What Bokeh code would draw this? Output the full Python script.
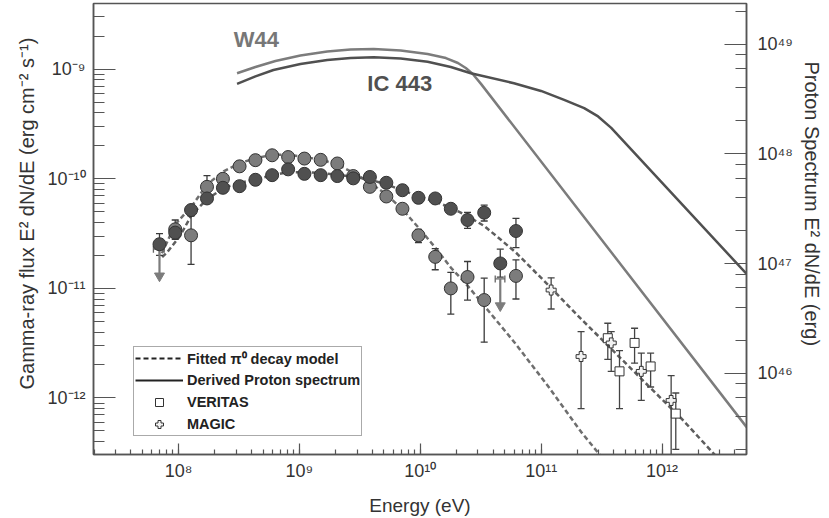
import math
from bokeh.plotting import figure
from bokeh.models import (Range1d, LogAxis, LogScale, Legend, LegendItem, Title,
                          CustomJSTickFormatter)
from bokeh.embed import file_html
from bokeh.resources import INLINE
from bokeh.core.properties import value

FONT = "Liberation Sans"

# ---------------- Fermi-LAT data ----------------
# W44 (lighter gray) detections
w44_energy = [9.39e7, 1.27e8, 1.72e8, 2.33e8, 3.20e8, 4.33e8, 5.95e8, 8.07e8, 1.10e9,
              1.50e9, 2.06e9, 2.79e9, 3.83e9, 5.24e9, 7.12e9, 9.66e9, 1.33e10, 1.79e10,
              2.46e10, 3.38e10, 6.19e10]
w44_flux = [3.46e-11, 3.05e-11, 8.45e-11, 1.00e-10, 1.30e-10, 1.48e-10, 1.64e-10, 1.58e-10,
            1.53e-10, 1.49e-10, 1.38e-10, 1.06e-10, 8.45e-11, 6.90e-11, 5.33e-11, 3.05e-11,
            1.94e-11, 1.00e-11, 1.27e-11, 7.83e-12, 1.30e-11]
# W44 visible error bars
w44_err_energy = [9.39e7, 1.27e8, 1.72e8, 9.66e9, 1.33e10, 1.79e10, 2.46e10, 3.38e10, 6.19e10]
w44_err_low = [2.81e-11, 1.66e-11, 6.80e-11, 2.62e-11, 1.48e-11, 5.83e-12, 7.83e-12, 3.23e-12, 8.0e-12]
w44_err_high = [4.21e-11, 4.57e-11, 1.07e-10, 3.46e-11, 2.31e-11, 1.40e-11, 1.76e-11, 1.24e-11, 1.82e-11]
# W44 upper limits
w44_ul_energy = [6.96e7, 4.59e10]
w44_ul_flux = [2.28e-11, 1.22e-11]
w44_ul_arrow_end = [1.30e-11, 6.95e-12]
w44_ul_energy_low = [6.20e7, 4.17e10]
w44_ul_energy_high = [7.61e7, 5.01e10]

# IC 443 (darker gray)
ic_energy = [6.96e7, 9.39e7, 1.27e8, 1.72e8, 2.33e8, 3.20e8, 4.33e8, 5.95e8, 8.07e8, 1.10e9,
             1.50e9, 2.06e9, 2.79e9, 3.83e9, 5.24e9, 7.12e9, 9.66e9, 1.33e10, 1.79e10,
             2.46e10, 3.38e10, 4.59e10, 6.19e10]
ic_flux = [2.53e-11, 3.23e-11, 5.19e-11, 6.62e-11, 8.28e-11, 8.57e-11, 9.80e-11, 1.08e-10,
           1.22e-10, 1.11e-10, 1.08e-10, 1.06e-10, 1.01e-10, 1.04e-10, 9.20e-11, 7.87e-11,
           6.71e-11, 6.62e-11, 5.33e-11, 4.21e-11, 4.91e-11, 1.69e-11, 3.34e-11]
ic_err_energy = [6.96e7, 1.79e10, 2.46e10, 3.38e10, 4.59e10, 6.19e10]
ic_err_low = [2.00e-11, 4.90e-11, 3.53e-11, 4.12e-11, 1.27e-11, 2.36e-11]
ic_err_high = [3.16e-11, 5.80e-11, 4.94e-11, 5.75e-11, 2.28e-11, 4.36e-11]

# VERITAS and MAGIC (IC 443)
veritas_energy = [3.56e11, 4.45e11, 5.93e11, 8.05e11, 1.30e12]
veritas_flux = [3.51e-12, 1.75e-12, 3.18e-12, 1.94e-12, 7.2e-13]
veritas_low = [2.25e-12, 8.0e-13, 2.08e-12, 1.26e-12, 3.39e-13]
veritas_high = [4.81e-12, 2.71e-12, 4.33e-12, 2.57e-12, 1.11e-12]

magic_energy = [1.21e11, 2.14e11, 3.80e11, 6.74e11, 1.19e12]
magic_flux = [9.66e-12, 2.39e-12, 3.18e-12, 1.75e-12, 9.5e-13]
magic_low = [6.49e-12, 8.0e-13, 1.75e-12, 9.5e-13, 2.8e-13]
magic_high = [1.25e-11, 4.03e-12, 4.03e-12, 2.57e-12, 1.6e-12]

# ---------------- Fitted pi0 decay models ----------------
w44_model_energy = [7.29e7, 9.39e7, 1.29e8, 1.72e8, 2.36e8, 3.25e8, 4.47e8, 5.95e8, 8.07e8,
                    1.10e9, 1.50e9, 2.06e9, 2.83e9, 3.83e9, 5.24e9, 7.12e9, 9.66e9, 1.33e10,
                    1.79e10, 2.46e10, 3.38e10, 6.00e10, 1.13e11, 2.14e11, 3.14e11]
w44_model_flux = [2.09e-11, 3.84e-11, 5.64e-11, 8.87e-11, 1.17e-10, 1.40e-10, 1.55e-10, 1.66e-10,
                  1.66e-10, 1.58e-10, 1.50e-10, 1.35e-10, 1.13e-10, 9.20e-11, 7.20e-11, 5.26e-11,
                  3.59e-11, 2.36e-11, 1.55e-11, 1.06e-11, 6.95e-12, 3.23e-12, 1.30e-12, 4.91e-13,
                  2.92e-13]

ic_model_energy = [7.32e7, 8.01e7, 1.03e8, 1.29e8, 1.72e8, 2.36e8, 3.25e8, 4.33e8, 5.95e8,
                   8.07e8, 1.10e9, 1.50e9, 2.06e9, 2.83e9, 3.83e9, 5.24e9, 7.12e9, 9.66e9,
                   1.33e10, 1.79e10, 2.46e10, 3.38e10, 4.59e10, 6.19e10, 1.13e11, 2.14e11,
                   4.05e11, 7.66e11, 1.45e12, 2.82e12]
ic_model_flux = [1.93e-11, 2.12e-11, 3.01e-11, 4.73e-11, 6.48e-11, 8.28e-11, 9.20e-11, 9.86e-11,
                 1.08e-10, 1.15e-10, 1.15e-10, 1.13e-10, 1.09e-10, 1.04e-10, 9.86e-11, 8.87e-11,
                 7.87e-11, 6.95e-11, 6.18e-11, 5.45e-11, 4.57e-11, 3.71e-11, 2.81e-11, 2.12e-11,
                 1.09e-11, 5.26e-12, 2.62e-12, 1.30e-12, 6.49e-13, 2.92e-13]

# ---------------- Derived proton spectra (right axis, erg) ----------------
w44_proton_energy = [3.05e8, 4.33e8, 6.34e8, 1.02e9, 1.70e9, 2.65e9, 4.12e9, 6.89e9, 1.15e10,
                     1.63e10, 2.05e10, 2.38e10, 2.72e10, 3.18e10, 5.03e12]
w44_proton_value = [5.45e48, 6.22e48, 7.05e48, 7.91e48, 8.61e48, 8.97e48, 9.06e48, 8.78e48,
                    8.17e48, 7.50e48, 6.76e48, 6.09e48, 5.37e48, 4.36e48, 3.2e45]

ic_proton_energy = [3.05e8, 4.33e8, 6.10e8, 1.02e9, 1.70e9, 2.65e9, 4.12e9, 6.89e9, 1.15e10,
                    1.79e10, 2.62e10, 5.96e10, 9.98e10, 1.55e11, 2.27e11, 2.96e11, 3.80e11, 5.03e12]
ic_proton_value = [4.36e48, 5.10e48, 5.83e48, 6.62e48, 7.20e48, 7.50e48, 7.62e48, 7.43e48,
                   6.95e48, 6.22e48, 5.45e48, 4.42e48, 3.76e48, 3.12e48, 2.62e48, 2.20e48,
                   1.73e48, 8.0e46]

# ---------------- Colors ----------------
W44_COLOR = "#7c7c7c"
IC_COLOR = "#505050"
EDGE = "#333333"

p = figure(width=829, height=518, x_axis_type="log", y_axis_type="log",
           x_range=Range1d(1.98e7, 5.0e12), y_range=Range1d(3.05e-13, 3.98e-9),
           output_backend="svg", toolbar_location=None,
           min_border_left=93, min_border_right=83, min_border_top=3, min_border_bottom=62,
           background_fill_color="white", border_fill_color="white")
p.xgrid.visible = False
p.ygrid.visible = False
p.outline_line_color = "#555555"
p.outline_line_width = 1.5

p.extra_y_ranges = {"proton": Range1d(1.81e45, 2.36e49)}
p.extra_y_scales = {"proton": LogScale()}
right_axis = LogAxis(y_range_name="proton")
p.add_layout(right_axis, "right")

fmt_code = """
const sup = {"-":"\u207b","0":"\u2070","1":"\u00b9","2":"\u00b2","3":"\u00b3","4":"\u2074",
             "5":"\u2075","6":"\u2076","7":"\u2077","8":"\u2078","9":"\u2079"};
const e = Math.round(Math.log10(tick));
return "10" + String(e).split("").map(c => sup[c]).join("");
"""

for ax in [p.xaxis[0], p.yaxis[0], right_axis]:
    ax.formatter = CustomJSTickFormatter(code=fmt_code)
    ax.axis_line_color = "#555555"
    ax.axis_line_width = 1.5
    ax.major_tick_line_color = "#555555"
    ax.minor_tick_line_color = "#555555"
    ax.major_tick_line_width = 1.2
    ax.minor_tick_line_width = 1.2
    ax.major_tick_out = 0
    ax.minor_tick_out = 0
    ax.major_label_text_font = FONT
    ax.major_label_text_font_size = "18px"
    ax.major_label_text_color = "#333333"
    ax.axis_label_text_font = FONT
    ax.axis_label_text_font_size = "19px"
    ax.axis_label_text_font_style = "normal"
    ax.axis_label_text_color = "#333333"

for ax in [p.yaxis[0], right_axis]:
    ax.major_tick_in = 22
    ax.minor_tick_in = 11
p.yaxis[0].major_label_standoff = 8
right_axis.major_label_standoff = 11
p.xaxis[0].major_tick_in = 11
p.xaxis[0].minor_tick_in = 5
p.xaxis[0].major_label_standoff = 6

p.xaxis[0].axis_label = "Energy (eV)"
p.xaxis[0].axis_label_standoff = 11

# vertical axis titles (placed as side titles so they can sit where the original has them)
left_title = Title(text="Gamma-ray flux E\u00b2 dN/dE (erg cm\u207b\u00b2 s\u207b\u00b9)",
                   align="left", offset=65, standoff=14, text_font=FONT,
                   text_font_size="20px", text_font_style="normal", text_color="#333333")
p.add_layout(left_title, "left")
right_title = Title(text="Proton Spectrum E\u00b2 dN/dE (erg)", align="left",
                    offset=58, standoff=10, text_font=FONT, text_font_size="20px",
                    text_font_style="normal", text_color="#333333")
p.add_layout(right_title, "right")

# proton spectra
p.line(w44_proton_energy, w44_proton_value, y_range_name="proton",
       line_color=W44_COLOR, line_width=2.5)
p.line(ic_proton_energy, ic_proton_value, y_range_name="proton",
       line_color=IC_COLOR, line_width=2.5)

# model curves
p.line(w44_model_energy, w44_model_flux, line_color="#6e6e6e", line_width=2.5, line_dash="5 3")
p.line(ic_model_energy, ic_model_flux, line_color="#5e5e5e", line_width=2.5, line_dash="5 3")

# error bars
def errorbars(xs, lo, hi, color):
    p.segment(xs, lo, xs, hi, line_color=color, line_width=1.3)
    p.scatter(xs, lo, marker="dash", size=7, line_color=color, line_width=1.3)
    p.scatter(xs, hi, marker="dash", size=7, line_color=color, line_width=1.3)

errorbars(w44_err_energy, w44_err_low, w44_err_high, "#3a3a3a")
errorbars(ic_err_energy, ic_err_low, ic_err_high, "#3a3a3a")
errorbars(veritas_energy, veritas_low, veritas_high, "#444444")
errorbars(magic_energy, magic_low, magic_high, "#444444")

# upper limits (W44)
p.segment(w44_ul_energy_low, w44_ul_flux, w44_ul_energy_high, w44_ul_flux,
          line_color="#666666", line_width=1.3)
p.scatter(w44_ul_energy_low, w44_ul_flux, marker="dash", angle=math.pi / 2, size=7,
          line_color="#666666", line_width=1.3)
p.scatter(w44_ul_energy_high, w44_ul_flux, marker="dash", angle=math.pi / 2, size=7,
          line_color="#666666", line_width=1.3)
p.segment(w44_ul_energy, w44_ul_flux, w44_ul_energy, w44_ul_arrow_end,
          line_color=W44_COLOR, line_width=2.2)
p.scatter(w44_ul_energy, w44_ul_arrow_end, marker="inverted_triangle", size=10,
          fill_color=W44_COLOR, line_color=W44_COLOR)

# data points
p.scatter(w44_energy, w44_flux, marker="circle", size=13, fill_color=W44_COLOR,
          line_color=EDGE, line_width=1)
p.scatter(ic_energy, ic_flux, marker="circle", size=13, fill_color=IC_COLOR,
          line_color=EDGE, line_width=1)
r_ver = p.scatter(veritas_energy, veritas_flux, marker="square", size=9, fill_color="white",
                  line_color="#333333", line_width=1)
r_mag = p.scatter(magic_energy, magic_flux, marker="plus", size=10, fill_color="#f2f2f2",
                  line_color="#333333", line_width=1)

# source labels
p.text(x=[4.4e8], y=[1.85e-9], text=["W44"], text_font=value(FONT), text_font_style="bold",
       text_font_size="22px", text_color="#777777", text_align="center", text_baseline="middle")
p.text(x=[6.76e9], y=[7.35e-10], text=["IC 443"], text_font=value(FONT), text_font_style="bold",
       text_font_size="22px", text_color="#505050", text_align="center", text_baseline="middle")

# legend (key-only renderers carry no visible data)
nan = float("nan")
r_dash = p.line([nan, nan], [nan, nan], line_color="#222222", line_width=2.2, line_dash="5 3")
r_solid = p.line([nan, nan], [nan, nan], line_color="#222222", line_width=2.2)
legend = Legend(items=[
    LegendItem(label="Fitted \u03c0\u2070 decay model", renderers=[r_dash]),
    LegendItem(label="Derived Proton spectrum", renderers=[r_solid]),
    LegendItem(label="VERITAS", renderers=[r_ver]),
    LegendItem(label="MAGIC", renderers=[r_mag]),
], location=(40, 18), orientation="vertical")
legend.label_text_font = FONT
legend.label_text_font_style = "bold"
legend.label_text_font_size = "14.5px"
legend.label_text_color = "#222222"
legend.glyph_width = 48
legend.glyph_height = 20
legend.label_height = 20
legend.label_standoff = 4
legend.spacing = 2
legend.padding = 1
legend.margin = 0
legend.border_line_color = "#555555"
legend.border_line_width = 1.3
legend.background_fill_color = "white"
legend.background_fill_alpha = 1.0
p.add_layout(legend)

open("out.html", "w").write(file_html(p, INLINE))
